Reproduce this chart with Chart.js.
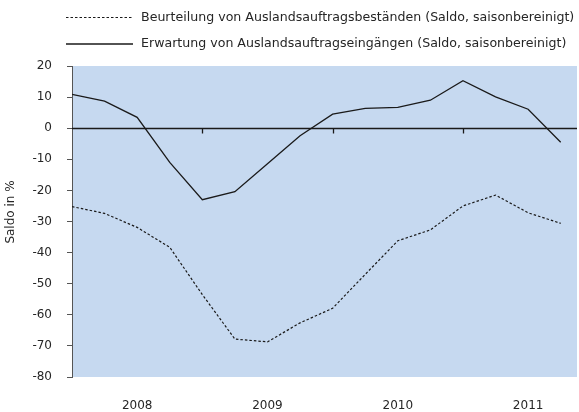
<!DOCTYPE html>
<html>
<head>
<meta charset="utf-8">
<script src="https://cdn.jsdelivr.net/npm/chart.js@4.4.1/dist/chart.umd.min.js"></script>
<style>
    html, body { margin: 0; padding: 0; background: #ffffff; }
    canvas { display: block; }
</style>
</head>
<body>
<canvas id="saldoChart" width="579" height="412"></canvas>
<script>
// Quarterly values 2008 Q1 .. 2011 Q4 (Saldo in %)
const years = ['2008', '2009', '2010', '2011'];
const yearCenters = [2, 6, 10, 14];     // quarter index of each year label
const yearBreaks = [4, 8, 12];          // quarter index of each year boundary
const bestaende = [-25.2, -27.4, -31.9, -38.3, -53.5, -67.8, -68.7, -62.6,
                   -57.9, -47.0, -36.2, -32.7, -25.0, -21.5, -27.2, -30.6];
const eingaenge = [10.9, 8.7, 3.5, -11.0, -23.0, -20.4, -11.4, -2.4,
                   4.5, 6.4, 6.7, 9.0, 15.3, 10.1, 6.1, -4.5];
const labelBestaende = 'Beurteilung von Auslandsauftragsbeständen (Saldo, saisonbereinigt)';
const labelEingaenge = 'Erwartung von Auslandsauftragseingängen (Saldo, saisonbereinigt)';
const yTitle = 'Saldo in %';

const FONT = '"DejaVu Sans", Verdana, sans-serif';
const TEXT = '#262626';
const LINE = '#1a1a1a';

const toPoints = (vals) => vals.map((v, i) => ({ x: i, y: v }));

const decorPlugin = {
    id: 'decor',
    beforeDraw(chart) {
        const { ctx, chartArea: a } = chart;
        ctx.save();
        ctx.fillStyle = '#c6d9f0';
        ctx.fillRect(a.left, a.top, a.right - a.left, a.bottom - a.top);
        ctx.restore();
    },
    beforeDatasetsDraw(chart) {
        const { ctx, chartArea: a, scales: { x, y } } = chart;
        const y0 = Math.round(y.getPixelForValue(0)) + 0.5;
        ctx.save();
        ctx.strokeStyle = LINE;
        ctx.lineWidth = 1.3;
        ctx.beginPath();
        ctx.moveTo(a.left, y0);
        ctx.lineTo(a.right, y0);
        yearBreaks.forEach(q => {
            const px = Math.round(x.getPixelForValue(q)) + 0.5;
            ctx.moveTo(px, y0);
            ctx.lineTo(px, y0 + 5);
        });
        ctx.stroke();
        ctx.restore();
    },
    afterDraw(chart) {
        const { ctx } = chart;
        ctx.save();
        // legend
        ctx.font = '12.6px ' + FONT;
        ctx.fillStyle = TEXT;
        ctx.textBaseline = 'middle';
        chart.data.datasets.forEach((ds, i) => {
            const ly = 17.5 + i * 26.5;
            ctx.strokeStyle = ds.borderColor;
            ctx.lineWidth = ds.borderWidth;
            ctx.setLineDash(ds.borderDash || []);
            ctx.beginPath();
            ctx.moveTo(66, ly);
            ctx.lineTo(133, ly);
            ctx.stroke();
            ctx.setLineDash([]);
            ctx.fillText(ds.label, 141, ly);
        });
        // y axis title
        ctx.font = '12px ' + FONT;
        ctx.translate(11, 212);
        ctx.rotate(-Math.PI / 2);
        ctx.textAlign = 'center';
        ctx.fillText(yTitle, 0, 0);
        ctx.restore();
    }
};

new Chart(document.getElementById('saldoChart'), {
    type: 'line',
    data: {
        datasets: [{
            label: labelBestaende,
            data: toPoints(bestaende),
            borderColor: LINE,
            borderWidth: 1.2,
            borderDash: [2.5, 2],
            pointRadius: 0,
            tension: 0
        }, {
            label: labelEingaenge,
            data: toPoints(eingaenge),
            borderColor: LINE,
            borderWidth: 1.3,
            pointRadius: 0,
            tension: 0
        }]
    },
    options: {
        responsive: false,
        devicePixelRatio: 1,
        animation: false,
        layout: {
            padding: { top: 66, right: 2, left: 0, bottom: 0 }
        },
        plugins: {
            legend: { display: false },
            tooltip: { enabled: false }
        },
        scales: {
            x: {
                type: 'linear',
                min: 0,
                max: 15.5,
                afterBuildTicks: (scale) => {
                    scale.ticks = yearCenters.map(v => ({ value: v }));
                },
                afterFit: (scale) => { scale.height = 35; },
                grid: { display: false },
                border: { display: false },
                ticks: {
                    autoSkip: false,
                    maxRotation: 0,
                    padding: 14,
                    color: TEXT,
                    font: { family: FONT, size: 12 },
                    callback: (value, index) => years[index]
                }
            },
            y: {
                min: -80,
                max: 20,
                afterFit: (scale) => { scale.width = 72; },
                grid: {
                    drawOnChartArea: false,
                    drawTicks: true,
                    tickLength: 5,
                    color: '#555555'
                },
                border: { color: '#555555', width: 1 },
                ticks: {
                    stepSize: 10,
                    padding: 15,
                    color: TEXT,
                    font: { family: FONT, size: 12 }
                }
            }
        }
    },
    plugins: [decorPlugin]
});
</script>
</body>
</html>
